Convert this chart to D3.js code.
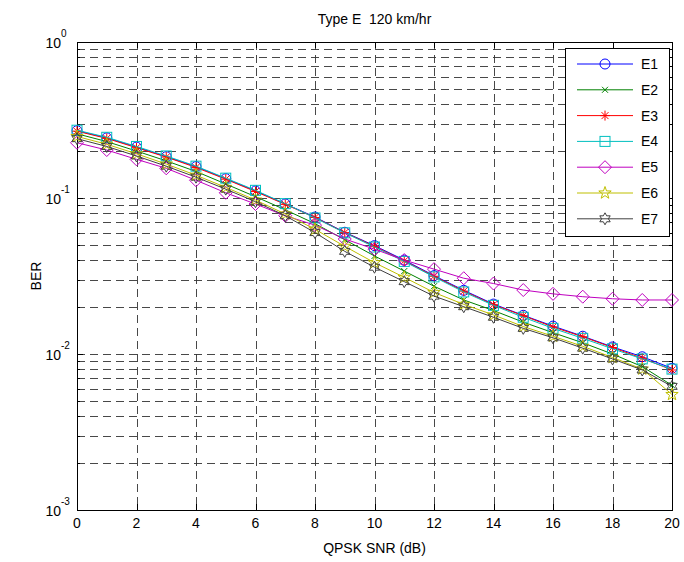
<!DOCTYPE html>
<html><head><meta charset="utf-8">
<script src="https://cdn.jsdelivr.net/npm/d3@7"></script>
<style>body{margin:0;background:#fff}svg{display:block;font-family:"Liberation Sans",Arial,sans-serif}text{white-space:pre}</style>
</head><body><svg id="c" width="684" height="562"></svg>
<script>
const snr = [0,1,2,3,4,5,6,7,8,9,10,11,12,13,14,15,16,17,18,19,20];
const seriesNames = ["E1","E2","E3","E4","E5","E6","E7"];
const E1 = [0.270,0.243,0.212,0.184,0.159,0.133,0.111,0.0916,0.0755,0.0603,0.0495,0.0400,0.0318,0.0256,0.0209,0.0177,0.0151,0.0130,0.0111,0.0096,0.0081];
const E2 = [0.258,0.230,0.200,0.173,0.148,0.123,0.102,0.0840,0.0685,0.0540,0.0425,0.0340,0.0272,0.0222,0.0190,0.0160,0.0137,0.0118,0.0100,0.0083,0.0063];
const E3 = [0.268,0.241,0.210,0.183,0.157,0.132,0.110,0.0910,0.0750,0.0600,0.0490,0.0395,0.0315,0.0253,0.0207,0.0176,0.0149,0.0129,0.0110,0.0094,0.0079];
const E4 = [0.272,0.245,0.214,0.186,0.160,0.134,0.112,0.0920,0.0745,0.0598,0.0485,0.0392,0.0312,0.0250,0.0205,0.0172,0.0146,0.0126,0.0108,0.0093,0.0080];
const E5 = [0.226,0.203,0.177,0.155,0.130,0.108,0.0915,0.0770,0.0670,0.0546,0.0470,0.0400,0.0350,0.0306,0.0283,0.0257,0.0243,0.0233,0.0226,0.0222,0.0222];
const E6 = [0.248,0.221,0.192,0.165,0.140,0.117,0.0970,0.0790,0.0630,0.0490,0.0385,0.0310,0.0248,0.0208,0.0178,0.0150,0.0130,0.0112,0.0095,0.0080,0.0055];
const E7 = [0.240,0.214,0.186,0.160,0.136,0.114,0.0947,0.0770,0.0600,0.0455,0.0360,0.0291,0.0235,0.0201,0.0172,0.0146,0.0127,0.0109,0.0093,0.0079,0.0062];
const xTicks = [0,2,4,6,8,10,12,14,16,18,20];
const yTickExps = [0,-1,-2,-3];
const title = "Type E  120 km/hr";
const xLabel = "QPSK SNR (dB)";
const yLabel = "BER";

const colors = ["#0000ff","#008000","#ff0000","#00bfbf","#bf00bf","#bfbf00","#404040"];
const markers = ["circle","x","asterisk","square","diamond","pentagram","hexagram"];
const data = [E1,E2,E3,E4,E5,E6,E7];

const L=77,R=672,T=42,B=510;
const svg = d3.select("#c");
const x = d3.scaleLinear().domain([0,20]).range([L,R]);
const y = d3.scaleLog().domain([1e-3,1]).range([B,T]);

// grid
const g = svg.append("g");
const minorVals=[];
for(let e=-3;e<0;e++) for(let k=1;k<10;k++) minorVals.push(k*Math.pow(10,e));
g.selectAll("line.hg").data(minorVals.filter(v=>v>1e-3)).enter().append("line")
 .attr("x1",L).attr("x2",R).attr("y1",d=>Math.round(y(d))+0.5).attr("y2",d=>Math.round(y(d))+0.5)
 .attr("stroke","#333").attr("stroke-width",0.9).attr("stroke-dasharray","8,5");
g.selectAll("line.vg").data(xTicks.slice(1,-1)).enter().append("line")
 .attr("y1",T).attr("y2",B).attr("x1",d=>Math.round(x(d))+0.5).attr("x2",d=>Math.round(x(d))+0.5)
 .attr("stroke","#333").attr("stroke-width",0.9).attr("stroke-dasharray","8,5");

// ticks (inward)
const tk = svg.append("g").attr("stroke","#000").attr("stroke-width",1);
xTicks.forEach(v=>{const px=Math.round(x(v))+0.5;
  tk.append("line").attr("x1",px).attr("x2",px).attr("y1",B).attr("y2",B-6);
  tk.append("line").attr("x1",px).attr("x2",px).attr("y1",T).attr("y2",T+6);});
minorVals.concat([1]).forEach(v=>{const py=Math.round(y(v))+0.5; const len=(Math.abs(Math.log10(v)%1)<1e-9)?6:3;
  tk.append("line").attr("x1",L).attr("x2",L+len).attr("y1",py).attr("y2",py);
  tk.append("line").attr("x1",R).attr("x2",R-len).attr("y1",py).attr("y2",py);});

// frame
svg.append("rect").attr("x",L+0.5).attr("y",T+0.5).attr("width",R-L).attr("height",B-T)
  .attr("fill","none").attr("stroke","#000").attr("stroke-width",1);

// tick labels
svg.selectAll("text.xt").data(xTicks).enter().append("text")
 .attr("x",d=>x(d)).attr("y",B+18).attr("text-anchor","middle").attr("font-size",14).text(d=>d);
yTickExps.forEach(e=>{
  const t=svg.append("text").attr("x",L-16).attr("y",y(Math.pow(10,e))+6).attr("text-anchor","end").attr("font-size",14);
  t.text("10");
  svg.append("text").attr("x",L-16).attr("y",y(Math.pow(10,e))-5).attr("font-size",10).text(String(e));
});
svg.append("text").attr("x",(L+R)/2).attr("y",24).attr("text-anchor","middle").attr("font-size",14).attr("xml:space","preserve").text(title);
svg.append("text").attr("x",(L+R)/2).attr("y",553).attr("text-anchor","middle").attr("font-size",14).text(xLabel);
svg.append("text").attr("transform","translate(41,"+((T+B)/2)+") rotate(-90)").attr("text-anchor","middle").attr("font-size",14).text(yLabel);

// marker drawing
function star(n,ro,ri){const p=[];for(let i=0;i<2*n;i++){const a=-Math.PI/2+i*Math.PI/n;const r=i%2?ri:ro;p.push([r*Math.cos(a),r*Math.sin(a)]);}return "M"+p.map(q=>q.join(",")).join("L")+"Z";}
function drawMarker(sel,type,color,cx,cy){
  const gg=sel.append("g").attr("transform",`translate(${cx},${cy})`).attr("fill","none").attr("stroke",color).attr("stroke-width",1);
  if(type==="circle") gg.append("circle").attr("r",5);
  else if(type==="x") gg.append("path").attr("d","M-3,-3L3,3M-3,3L3,-3");
  else if(type==="asterisk") gg.append("path").attr("d","M0,-5L0,5M-5,0L5,0M-3.5,-3.5L3.5,3.5M-3.5,3.5L3.5,-3.5");
  else if(type==="square") gg.append("rect").attr("x",-5).attr("y",-5).attr("width",10).attr("height",10);
  else if(type==="diamond") gg.append("path").attr("d","M0,-6.5L6.5,0L0,6.5L-6.5,0Z");
  else if(type==="pentagram") gg.append("path").attr("d",star(5,6.5,2.6));
  else if(type==="hexagram") gg.append("path").attr("d",star(6,6,3.4));
}

const line = d3.line().x((d,i)=>x(snr[i])).y(d=>y(d));
const plot = svg.append("g");
data.forEach((s,k)=>{
  const sg=plot.append("g");
  sg.append("path").attr("d",line(s)).attr("fill","none").attr("stroke",colors[k]).attr("stroke-width",1);
  s.forEach((v,i)=>drawMarker(sg,markers[k],colors[k],x(snr[i]),y(v)));
});

// legend
const lx=565,ly=48,lw=104,lh=188;
const lg=svg.append("g");
lg.append("rect").attr("x",lx+0.5).attr("y",ly+0.5).attr("width",lw).attr("height",lh).attr("fill","#fff").attr("stroke","#000");
seriesNames.forEach((n,k)=>{
  const yy=ly+16+k*25.8;
  lg.append("line").attr("x1",lx+12).attr("x2",lx+68).attr("y1",yy).attr("y2",yy).attr("stroke",colors[k]);
  drawMarker(lg,markers[k],colors[k],lx+40,yy);
  lg.append("text").attr("x",lx+76).attr("y",yy+5).attr("font-size",14).text(n);
});
</script></body></html>
